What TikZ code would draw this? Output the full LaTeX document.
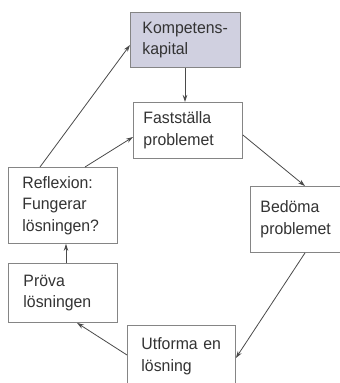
\documentclass[tikz,border=0pt]{standalone}
\usepackage{fontspec}
\setmainfont{Liberation Sans}[FakeStretch=0.96]
\usetikzlibrary{calc,arrows.meta}
\definecolor{boxline}{HTML}{858585}
\definecolor{arrowc}{HTML}{4A4A4A}
\definecolor{txt}{HTML}{333333}
\definecolor{kfill}{HTML}{D0D0E0}
\tikzset{
  stepbox/.style={draw=boxline, line width=0.9pt, rectangle, anchor=north west,
    align=left, text=txt, font=\fontsize{16.5}{21.5}\selectfont, inner ysep=0pt},
  flow/.style={draw=arrowc, line width=0.8pt, -{Stealth[length=7pt,width=4.5pt]}}
}
\begin{document}
\begin{tikzpicture}[x=1pt,y=-1pt]
\useasboundingbox (0,0) rectangle (340,383);
\clip (0,0) rectangle (340,383);
\fill[white] (0,0) rectangle (340,383);
\node[stepbox, fill=kfill, inner xsep=12pt, text width=86pt, minimum height=55pt] (komp) at (130,12) {Kompetens-\\kapital};
\node[stepbox, inner xsep=10pt, text width=89pt, minimum height=56pt] (fast) at (133,102) {Fastställa\\problemet};
\node[stepbox, inner xsep=14pt, text width=81pt, minimum height=76pt] (refl) at (8,167) {Reflexion:\\Fungerar\\lösningen?};
\node[stepbox, inner xsep=10pt, text width=70pt, minimum height=66pt] (bed) at (250,186) {Bedöma\\problemet};
\node[stepbox, inner xsep=15pt, text width=79pt, minimum height=59pt] (prova) at (8,263) {Pröva\\lösningen};
\node[stepbox, inner xsep=14pt, text width=80pt, minimum height=62pt] (utf) at (127,325) {Utforma en\\lösning};
\draw[flow] ($(refl.north west)+(32,0)$) -- ($(komp.north west)+(0,33)$);
\draw[flow] ($(refl.north west)+(77,0)$) -- ($(fast.north west)+(0,35)$);
\draw[flow] ($(komp.south west)+(55,0)$) -- ($(fast.north west)+(52,0)$);
\draw[flow] ($(fast.north east)+(0,33)$) -- ($(bed.north west)+(55,0)$);
\draw[flow] ($(bed.south west)+(55,0)$) -- ($(utf.north east)+(0,33)$);
\draw[flow] ($(utf.north west)+(0,30)$) -- ($(prova.south west)+(69,0)$);
\draw[flow] ($(prova.north west)+(58,0)$) -- ($(refl.south west)+(58,0)$);
\end{tikzpicture}
\end{document}
